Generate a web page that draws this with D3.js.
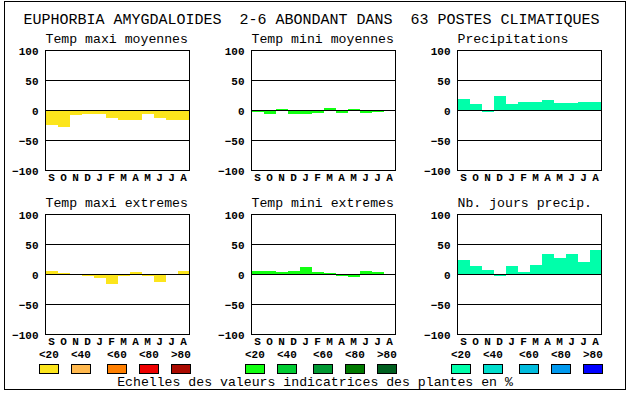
<!doctype html>
<html>
  <head>
    <meta charset="utf-8">
    <title>Euphorbia amygdaloides</title>
    <script src="https://d3js.org/d3.v7.min.js"></script>
    <style>
      body { margin: 0; background: #fff; }
      svg text { fill: #000; }
      .big { font-family: "Liberation Mono", "DejaVu Sans Mono", monospace; font-size: 15px; }
      .mid { font-family: "Liberation Mono", "DejaVu Sans Mono", monospace; font-size: 13.2px; }
      .small { font-family: "Liberation Mono", "DejaVu Sans Mono", monospace; font-size: 11px; font-weight: bold; }
    </style>
  </head>
  <body>
    <div id="chart"></div>
    <script>
      // data
      var title = 'EUPHORBIA AMYGDALOIDES  2-6 ABONDANT DANS  63 POSTES CLIMATIQUES';
      var caption = 'Echelles des valeurs indicatrices des plantes en %';
      var months = ['S', 'O', 'N', 'D', 'J', 'F', 'M', 'A', 'M', 'J', 'J', 'A'];
      var yTicks = [100, 50, 0, -50, -100];
      var legendLabels = ['<20', '<40', '<60', '<80', '>80'];

      var panelTitles = ['Temp maxi moyennes', 'Temp mini moyennes', 'Precipitations',
                         'Temp maxi extremes', 'Temp mini extremes', 'Nb. jours precip.'];
      var tmaxMoy   = [-24, -28, -8, -6, -6, -12, -15, -15, -6, -13, -15, -15];
      var tminMoy   = [-2, -6, 2, -6, -6, -4, 4, -4, 2, -4, -2, 0];
      var precip    = [20, 11, -3, 24, 11, 14, 14, 17, 12, 12, 15, 14];
      var tmaxExt   = [6, 2, 0, -2, -6, -15, -3, 4, -3, -13, 0, 6];
      var tminExt   = [6, 6, 4, 6, 12, 4, 2, -3, -4, 6, 4, 0];
      var joursPrec = [25, 14, 7, -3, 14, 4, 16, 34, 27, 34, 21, 41];

      var yellows = ['#fce51c', '#ffb84d', '#ff7f00', '#ee0000', '#aa0a00'];
      var greens  = ['#11ff11', '#00cc33', '#009933', '#007a00', '#005f1f'];
      var blues   = ['#00ffaa', '#00ddcc', '#00bbdd', '#0099ee', '#0000ff'];

      var width = 630, height = 394;
      var colX = [45.5, 251.5, 457.5];
      var rowY = [50.5, 214.5];
      var plotW = 144, plotH = 120;
      var legendOff = [-6, 26, 62, 94, 126];

      var svg = d3.select('#chart').append('svg')
        .attr('width', width)
        .attr('height', height);

      svg.append('rect')
        .attr('x', 4.5).attr('y', 1.5)
        .attr('width', 621).attr('height', 388)
        .attr('fill', 'none').attr('stroke', '#000');

      svg.append('text').attr('class', 'big')
        .attr('x', 23.5).attr('y', 24)
        .text(title).style('white-space', 'pre');

      var panels = [
        { values: tmaxMoy, color: yellows[0] },
        { values: tminMoy, color: greens[0] },
        { values: precip, color: blues[0] },
        { values: tmaxExt, color: yellows[0] },
        { values: tminExt, color: greens[0] },
        { values: joursPrec, color: blues[0] }
      ];

      panels.forEach(function(p, i) {
        var left = colX[i % 3], top = rowY[Math.floor(i / 3)];
        var x = d3.scaleBand()
          .domain(d3.range(months.length))
          .range([left, left + plotW])
          .padding(0);
        var y = d3.scaleLinear()
          .domain([-100, 100])
          .range([top + plotH, top]);

        var g = svg.append('g');

        g.append('text').attr('class', 'mid')
          .attr('x', left).attr('y', top - 7.5)
          .text(panelTitles[i]);

        g.selectAll('rect.bar')
          .data(p.values)
          .enter()
          .append('rect')
          .attr('class', 'bar')
          .attr('x', function(d, j) { return x(j); })
          .attr('width', x.bandwidth())
          .attr('y', function(d) { return y(Math.max(0, d)); })
          .attr('height', function(d) { return Math.abs(y(d) - y(0)); })
          .attr('fill', p.color)
          .attr('shape-rendering', 'crispEdges');

        g.selectAll('line.grid')
          .data([50, 0, -50])
          .enter()
          .append('line')
          .attr('x1', left).attr('x2', left + plotW)
          .attr('y1', function(d) { return y(d); })
          .attr('y2', function(d) { return y(d); })
          .attr('stroke', '#000');

        g.append('rect')
          .attr('x', left).attr('y', top)
          .attr('width', plotW).attr('height', plotH)
          .attr('fill', 'none').attr('stroke', '#000');

        var ya = g.append('g')
          .attr('transform', 'translate(' + left + ',0)')
          .call(d3.axisLeft(y).tickValues(yTicks).tickSize(0).tickPadding(7));
        ya.select('.domain').remove();
        ya.selectAll('text').attr('class', 'small').attr('fill', '#000');

        var xa = g.append('g')
          .attr('transform', 'translate(0,' + (top + plotH) + ')')
          .call(d3.axisBottom(x).tickFormat(function(j) { return months[j]; })
            .tickSize(0).tickPadding(2.5));
        xa.select('.domain').remove();
        xa.selectAll('text').attr('class', 'small').attr('fill', '#000');
      });

      [yellows, greens, blues].forEach(function(cols, c) {
        var left = colX[c];
        var lg = svg.append('g');
        lg.selectAll('text')
          .data(legendLabels)
          .enter()
          .append('text')
          .attr('class', 'small')
          .attr('x', function(d, j) { return left + legendOff[j] - 0.5; })
          .attr('y', 357.8)
          .text(function(d) { return d; });
        lg.selectAll('rect')
          .data(cols)
          .enter()
          .append('rect')
          .attr('x', function(d, j) { return left + legendOff[j]; })
          .attr('y', 364.5)
          .attr('width', 19).attr('height', 9)
          .attr('fill', function(d) { return d; })
          .attr('stroke', '#000');
      });

      svg.append('text').attr('class', 'mid')
        .attr('x', 315).attr('y', 386)
        .attr('text-anchor', 'middle')
        .text(caption);
    </script>
  </body>
</html>
